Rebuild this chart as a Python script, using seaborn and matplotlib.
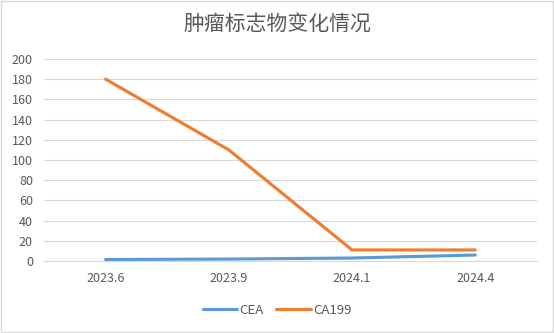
import matplotlib
matplotlib.use("Agg")
import matplotlib.pyplot as plt
import seaborn as sns
import pandas as pd
from matplotlib.patches import Rectangle
from matplotlib.lines import Line2D

categories = ["2023.6", "2023.9", "2024.1", "2024.4"]
cea = [1.5, 2, 3, 6]
ca199 = [180, 110, 11, 11]
yticks = [0, 20, 40, 60, 80, 100, 120, 140, 160, 180, 200]

df = pd.DataFrame({
    "date": categories * 2,
    "value": cea + ca199,
    "series": ["CEA"] * 4 + ["CA199"] * 4,
})

sns.set_theme(style="white")
plt.rcParams['font.family'] = ['Noto Sans CJK SC', 'DejaVu Sans']

fig = plt.figure(figsize=(5.54, 3.33), dpi=100)
ax = fig.add_axes([0.0794, 0.216, 0.8896, 0.607])
sns.lineplot(data=df, x="date", y="value", hue="series", sort=False,
             palette={"CEA": "#5B9BD5", "CA199": "#ED7D31"}, linewidth=2.25,
             ax=ax, legend=False)
ax.set_xlim(-0.5, 3.5)
ax.set_ylim(0, 200)
ax.set_yticks(yticks)
ax.set_yticklabels([str(v) for v in yticks])
ax.yaxis.grid(True, color="#D9D9D9", linewidth=0.8)
ax.set_axisbelow(True)
for s in ["left", "right", "top"]:
    ax.spines[s].set_visible(False)
ax.spines["bottom"].set_color("#D9D9D9")
ax.spines["bottom"].set_linewidth(0.8)
ax.tick_params(axis="both", length=0, colors="#595959", labelsize=9)
ax.tick_params(axis="x", pad=8)
ax.tick_params(axis="y", pad=8)
ax.set_xlabel("")
ax.set_ylabel("")

fig.text(0.5, 0.925, "肿瘤标志物变化情况", ha="center", va="center",
         fontsize=15, color="#595959")

handles = [Line2D([], [], color="#5B9BD5", lw=2.25),
           Line2D([], [], color="#ED7D31", lw=2.25)]
fig.legend(handles, ["CEA", "CA199"], loc="center", bbox_to_anchor=(0.5, 0.068),
           ncol=2, frameon=False, fontsize=9.5, labelcolor="#595959",
           handlelength=2.6, columnspacing=1.0, handletextpad=0.15)

fig.patches.append(Rectangle((0.002, 0.003), 0.996, 0.994, transform=fig.transFigure,
                             fill=False, edgecolor="#D9D9D9", linewidth=1))
fig.savefig("out.png", dpi=100)
